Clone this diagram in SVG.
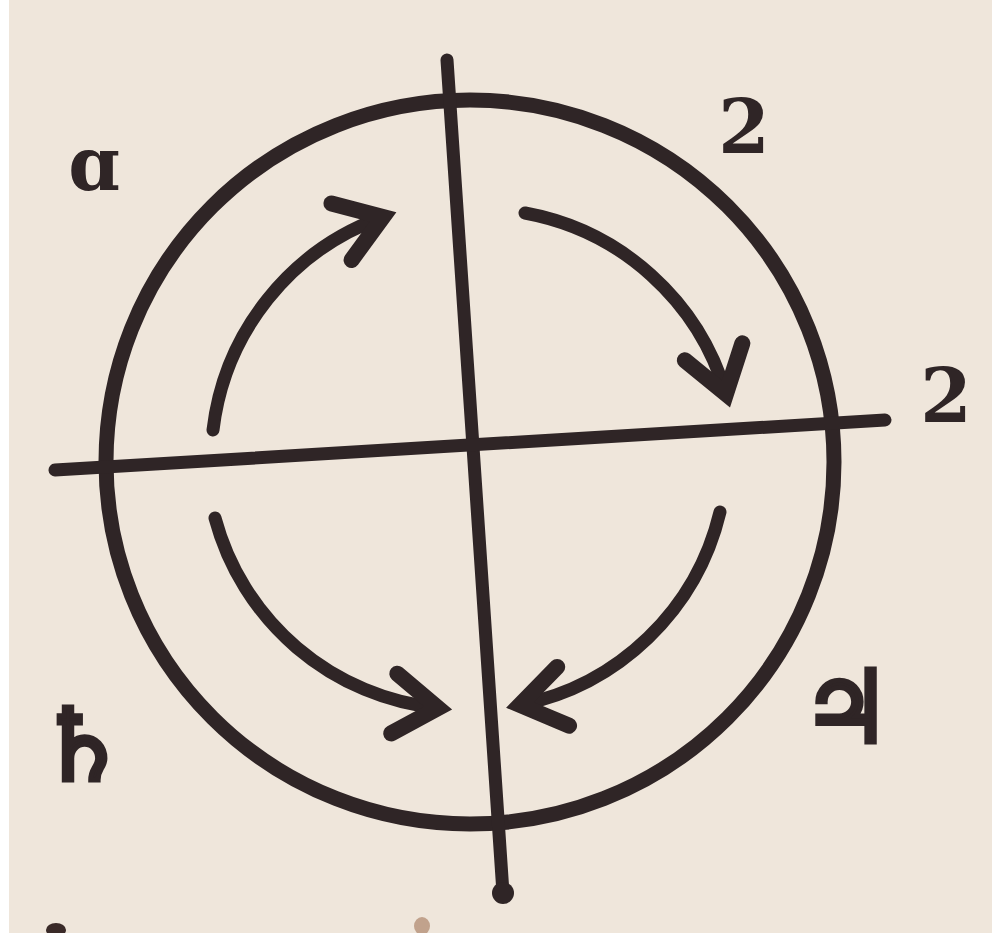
<svg xmlns="http://www.w3.org/2000/svg" width="992" height="933" viewBox="0 0 992 933">
  <defs>
    <style>
      .ink { stroke: #2f2526; fill: none; stroke-linecap: round; }
      .ring { stroke-width: 15; }
      .axis { stroke-width: 13; }
      .arc { stroke-width: 13; }
      .lbl { font-family: "DejaVu Serif", "Liberation Serif", serif; font-weight: bold; font-size: 74px; fill: #2f2526; text-anchor: middle; }
      .sym { font-family: "DejaVu Sans", sans-serif; font-size: 100px; fill: #2f2526; stroke: #2f2526; stroke-width: 5; text-anchor: middle; }
    </style>
    <marker id="head" markerUnits="userSpaceOnUse" markerWidth="90" markerHeight="90" refX="0" refY="0" viewBox="-55 -45 65 90" orient="auto">
      <path d="M-44,-30 L0,0 L-44,30" stroke="#2f2526" stroke-width="16" fill="none" stroke-linecap="round" stroke-linejoin="miter"/>
    </marker>
  </defs>
  <rect x="0" y="0" width="992" height="933" fill="#efe6db"/>
  <rect x="0" y="0" width="9" height="933" fill="#ffffff"/>
  <g id="stains">
    <ellipse cx="56" cy="930" rx="10" ry="7" fill="#3a2a28"/>
    <ellipse cx="422" cy="926" rx="8" ry="9" fill="#9a6a4a" opacity="0.55"/>
  </g>
  <g id="circle">
    <ellipse class="ink ring" cx="470" cy="462" rx="364" ry="362"/>
  </g>
  <g id="axes">
    <line class="ink axis" x1="447" y1="60" x2="503" y2="893"/>
    <line class="ink axis" x1="55" y1="470" x2="885" y2="420"/>
    <circle cx="503" cy="893" r="11" fill="#2f2526"/>
  </g>
  <g id="connectors">
    <path class="ink arc" d="M213,430 A258,258 0 0 1 383,217" marker-end="url(#head)"/>
    <path class="ink arc" d="M525,213 A258,258 0 0 1 726,394" marker-end="url(#head)"/>
    <path class="ink arc" d="M215,518 A258,258 0 0 0 438,708" marker-end="url(#head)"/>
    <path class="ink arc" d="M720,512 A258,258 0 0 1 520,705" marker-end="url(#head)"/>
  </g>
  <g id="label-tl"><text class="lbl" x="94" y="190">ɑ</text></g>
  <g id="label-tr"><text class="lbl" x="744" y="153">2</text></g>
  <g id="label-r"><text class="lbl" x="946" y="422">2</text></g>
  <g id="label-br"><text class="sym" x="846" y="742">♃</text></g>
  <g id="label-bl"><text class="sym" x="82" y="780">♄</text></g>
</svg>
